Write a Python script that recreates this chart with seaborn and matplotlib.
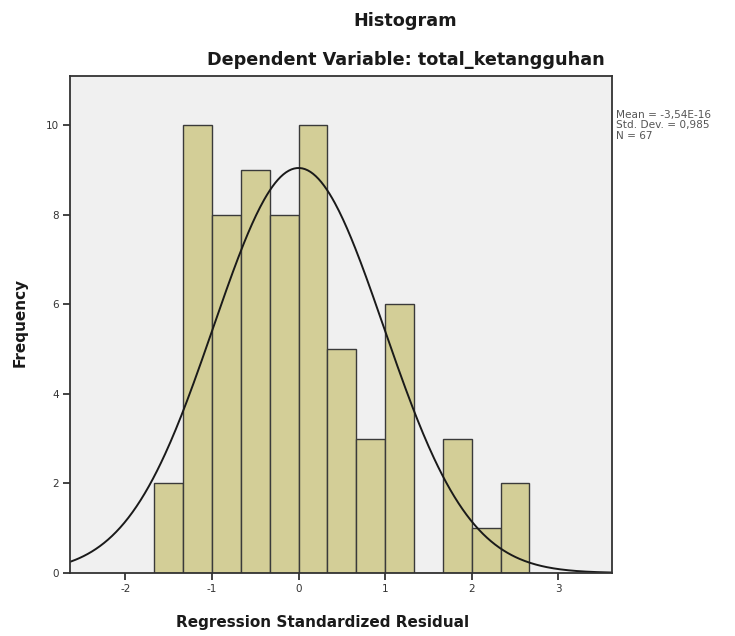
import numpy as np
import pandas as pd
import matplotlib
matplotlib.use("Agg")
import matplotlib.pyplot as plt
import seaborn as sns

# ---- data ----
bin_edges = [-5/3, -4/3, -1, -2/3, -1/3, 0, 1/3, 2/3, 1, 4/3, 5/3, 2, 7/3, 8/3]
counts = [2, 10, 8, 9, 8, 10, 5, 3, 6, 0, 3, 1, 2]
mean_val = -3.54e-16
std_val = 0.985
n_val = 67
x_ticks = [-2, -1, 0, 1, 2, 3]
y_ticks = [0, 2, 4, 6, 8, 10]

sns.set_style("white")
plt.rcParams['font.family'] = ['DejaVu Sans']

fig = plt.figure(figsize=(7.35, 6.36), dpi=100)
ax = fig.add_axes([70/735, 1-573/636, (612-70)/735, (573-76)/636])
ax.set_facecolor("#F0F0F0")

centers = [(bin_edges[i] + bin_edges[i+1]) / 2 for i in range(len(counts))]
df = pd.DataFrame({"resid": centers, "count": counts})
sns.histplot(data=df, x="resid", weights="count", bins=bin_edges, ax=ax,
             color="#D3CE97", edgecolor="#3a3a3a", linewidth=1.0, alpha=1.0)

xmin, xmax = -2.64, 3.62
bw = bin_edges[1] - bin_edges[0]
xs = np.linspace(xmin, xmax, 400)
ys = n_val * bw * np.exp(-0.5 * ((xs - mean_val) / std_val) ** 2) / (std_val * np.sqrt(2 * np.pi))
sns.lineplot(x=xs, y=ys, ax=ax, color="#1a1a1a", linewidth=1.4)

ax.set_xlim(xmin, xmax)
ax.set_ylim(0, 11.1)
ax.set_xticks(x_ticks)
ax.set_yticks(y_ticks)
ax.set_xticklabels([str(t) for t in x_ticks], fontsize=7.5, color="#333333")
ax.set_yticklabels([str(t) for t in y_ticks], fontsize=7.5, color="#333333")
ax.tick_params(axis="both", direction="out", length=5, width=1.2, color="#222222",
               bottom=True, left=True, pad=3)
for s in ax.spines.values():
    s.set_color("#333333")
    s.set_linewidth(1.3)

ax.set_xlabel("")
ax.set_ylabel("")
fig.text(323/735, 1-622/636, "Regression Standardized Residual", ha="center", va="center",
         fontsize=11, fontweight="bold", color="#1a1a1a")
fig.text(20/735, 1-322/636, "Frequency", ha="center", va="center", rotation=90,
         fontsize=11, fontweight="bold", color="#1a1a1a")
fig.text(405/735, 1-21/636, "Histogram", ha="center", va="center",
         fontsize=12.7, fontweight="bold", color="#1a1a1a")
fig.text(406/735, 1-60/636, "Dependent Variable: total_ketangguhan", ha="center", va="center",
         fontsize=12.7, fontweight="bold", color="#1a1a1a")
fig.text(616/735, 1-110/636,
         "Mean = -3,54E-16\nStd. Dev. = 0,985\nN = 67",
         ha="left", va="top", fontsize=7.6, color="#555555", linespacing=1.05)

fig.savefig("out.png", dpi=100, facecolor="white")
